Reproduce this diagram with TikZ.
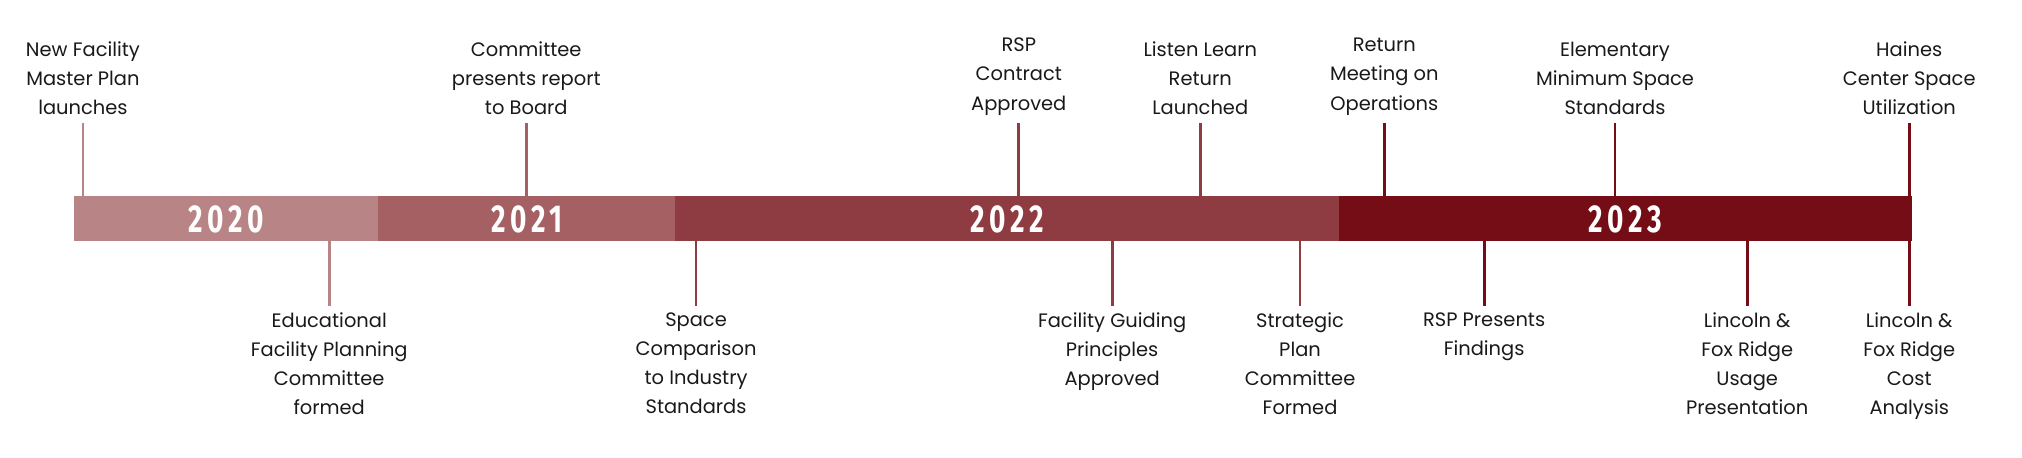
\documentclass[tikz,border=0pt]{standalone}
\usepackage{fontspec}
\setmainfont{Poppins}
\newfontfamily\yearfont[FakeStretch=0.72,LetterSpace=12]{Fira Sans Bold}
\definecolor{cA}{HTML}{B98486}
\definecolor{cB}{HTML}{A56064}
\definecolor{cC}{HTML}{8E3C42}
\definecolor{cD}{HTML}{740D15}
\begin{document}
\begin{tikzpicture}[x=1pt,y=-1pt,
  lbl/.style={align=center,font=\fontsize{15}{22.5}\selectfont,inner sep=0pt,text=black!90},
  yr/.style={text=white,font=\yearfont\fontsize{30}{30}\selectfont},
  tk/.style={line width=2.2pt}]
\useasboundingbox (0,0) rectangle (1560,353);
\fill[cA] (57,151) rectangle (292,186);
\fill[cB] (292,151) rectangle (521,186);
\fill[cC] (521,151) rectangle (1033,186);
\fill[cD] (1033,151) rectangle (1475,186);
\node[yr] (y0) at (174.5,169) {2020};
\node[yr] (y1) at (406.5,169) {2021};
\node[yr] (y2) at (777,169) {2022};
\node[yr] (y3) at (1254,169) {2023};
% top events
\foreach \n/\x/\c/\t in {a/64/cA/{New Facility\\Master Plan\\launches},
  b/406/cB/{Committee\\presents report\\to Board},
  c/786/cC/{RSP\\Contract\\Approved},
  d/926/cC/{Listen Learn\\Return\\Launched},
  e/1068/cD/{Return\\Meeting on\\Operations},
  f/1246/cD/{Elementary\\Minimum Space\\Standards},
  g/1473/cD/{Haines\\Center Space\\Utilization}}{
  \node[lbl,anchor=south] (t\n) at (\x,89) {\t};
  \coordinate (ta\n) at (\x,95);
  \coordinate (tb\n) at (\x,151);
  \draw[tk,\c] (ta\n) -- (tb\n);
}
% bottom events
\foreach \n/\x/\c/\t in {a/254/cA/{Educational\\Facility Planning\\Committee\\formed},
  b/537/cC/{Space\\Comparison\\to Industry\\Standards},
  c/858/cC/{Facility Guiding\\Principles\\Approved},
  d/1003/cC/{Strategic\\Plan\\Committee\\Formed},
  e/1145/cD/{RSP Presents\\Findings},
  f/1348/cD/{Lincoln \&\\Fox Ridge\\Usage\\Presentation},
  g/1473/cD/{Lincoln \&\\Fox Ridge\\Cost\\Analysis}}{
  \node[lbl,anchor=north] (b\n) at (\x,241) {\t};
  \coordinate (ba\n) at (\x,186);
  \coordinate (bb\n) at (\x,236);
  \draw[tk,\c] (ba\n) -- (bb\n);
}
\end{tikzpicture}
\end{document}
